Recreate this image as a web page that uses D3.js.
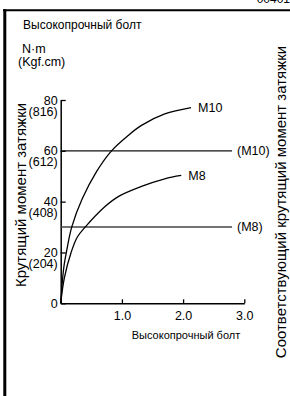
<!DOCTYPE html>
<html>
<head>
<meta charset="utf-8">
<script src="https://cdn.jsdelivr.net/npm/d3@7"></script>
<style>
  body { margin: 0; background: #fff; }
  svg { display: block; font-family: "Liberation Sans", Arial, sans-serif; }
</style>
</head>
<body>
<div id="chart"></div>
<script>
// torque values (N·m) and matching kgf·cm labels
const yTicks = [0, 20, 40, 60, 80];
const yTicksKgf = ["", "(204)", "(408)", "(612)", "(816)"];
const xTicks = [1, 2, 3];

// curve readings
const m10X = [0, 0.05, 0.1, 0.18, 0.35, 0.59, 0.83, 1.1, 1.32, 1.70, 2.13];
const m10Y = [0, 14, 21, 30, 41, 52, 60, 66, 70, 74.5, 77];
const m8X = [0, 0.06, 0.17, 0.27, 0.40, 0.72, 0.94, 1.32, 1.70, 1.97];
const m8Y = [0, 10, 20, 26, 30, 38, 42, 46, 49, 50.3];

// reference lines (corresponding torque)
const refNames = ["(M10)", "(M8)"];
const refValues = [60, 30];
const refEnd = 2.8;

const width = 290, height = 396;

const svg = d3.select("#chart")
  .append("svg")
  .attr("width", width)
  .attr("height", height);

// frame
svg.append("line")
  .attr("x1", 3).attr("x2", width)
  .attr("y1", 10.3).attr("y2", 10.3)
  .attr("stroke", "#000").attr("stroke-width", 2);
svg.append("line")
  .attr("x1", 4.8).attr("x2", 4.8)
  .attr("y1", 9.3).attr("y2", height)
  .attr("stroke", "#000").attr("stroke-width", 3);

// clipped code at top right
svg.append("text")
  .attr("x", 290).attr("y", 2.5)
  .attr("text-anchor", "end")
  .style("font-size", "12px")
  .text("00401");

var x = d3.scaleLinear()
  .domain([0, 3])
  .range([60.7, 244.3]);

var y = d3.scaleLinear()
  .domain([0, 80])
  .range([303.3, 100]);

// X axis
const xAxis = svg.append("g")
  .attr("transform", "translate(0," + y(0) + ")")
  .call(d3.axisBottom(x)
    .tickValues(xTicks)
    .tickFormat(d3.format(".1f"))
    .tickSizeInner(-4)
    .tickSizeOuter(0)
    .tickPadding(7.5));
xAxis.select(".domain").attr("stroke-width", 1.5);
xAxis.selectAll(".tick line").attr("stroke-width", 1.3);
xAxis.selectAll("text").style("font-size", "12.5px").attr("fill", "#000");

// Y axis with two-line labels
const yAxis = svg.append("g")
  .attr("transform", "translate(" + x(0) + ",0)")
  .call(d3.axisLeft(y)
    .tickValues(yTicks)
    .tickSizeInner(-5)
    .tickSizeOuter(0)
    .tickPadding(3));
yAxis.select(".domain").attr("stroke-width", 1.5);
yAxis.selectAll(".tick line").attr("stroke-width", 1.3);
yAxis.selectAll(".tick text")
  .style("font-size", "12.5px")
  .attr("fill", "#000")
  .attr("dy", null)
  .each(function (d, i) {
    const t = d3.select(this);
    t.text(null);
    t.append("tspan").attr("x", -3).attr("dy", "0.32em").text(d);
    if (yTicksKgf[i]) {
      t.append("tspan").attr("x", -3).attr("dy", "0.88em").text(yTicksKgf[i]);
    }
  });

// reference lines
refValues.forEach((v, i) => {
  svg.append("line")
    .attr("x1", x(0)).attr("x2", x(refEnd))
    .attr("y1", y(v)).attr("y2", y(v))
    .attr("stroke", i === 0 ? "#111" : "#444")
    .attr("stroke-width", 1.4);
  svg.append("text")
    .attr("x", x(refEnd) + 5)
    .attr("y", y(v))
    .attr("dy", "0.35em")
    .style("font-size", "12.5px")
    .text(refNames[i]);
});

// curves
const line = d3.line()
  .x(d => x(d[0]))
  .y(d => y(d[1]))
  .curve(d3.curveCatmullRom.alpha(0.5));

const curves = [
  { name: "M10", pts: d3.zip(m10X, m10Y) },
  { name: "M8", pts: d3.zip(m8X, m8Y) }
];

curves.forEach(c => {
  svg.append("path")
    .attr("d", line(c.pts))
    .attr("fill", "none")
    .attr("stroke", "#000")
    .attr("stroke-width", 1.3);
  const last = c.pts[c.pts.length - 1];
  svg.append("text")
    .attr("x", x(last[0]) + 7)
    .attr("y", y(last[1]))
    .attr("dy", "0.35em")
    .style("font-size", "12.5px")
    .text(c.name);
});

// titles
svg.append("text")
  .attr("x", 23).attr("y", 29)
  .style("font-size", "12px")
  .text("Высокопрочный болт");

svg.append("text")
  .attr("x", 18).attr("y", 53)
  .style("font-size", "12.5px")
  .selectAll("tspan")
  .data(["N·m", "(Kgf.cm)"])
  .enter()
  .append("tspan")
  .attr("x", (d, i) => i === 0 ? 22 : 18)
  .attr("dy", (d, i) => i === 0 ? 0 : "1em")
  .text(d => d);

svg.append("text")
  .attr("x", 186).attr("y", 339)
  .attr("text-anchor", "middle")
  .style("font-size", "11px")
  .text("Высокопрочный болт");

svg.append("text")
  .attr("transform", "translate(26,195) rotate(-90)")
  .attr("text-anchor", "middle")
  .style("font-size", "15px")
  .text("Крутящий момент затяжки");

svg.append("text")
  .attr("transform", "translate(286,202) rotate(-90)")
  .attr("text-anchor", "middle")
  .style("font-size", "15px")
  .text("Соответствующий крутящий момент затяжки");
</script>
</body>
</html>
